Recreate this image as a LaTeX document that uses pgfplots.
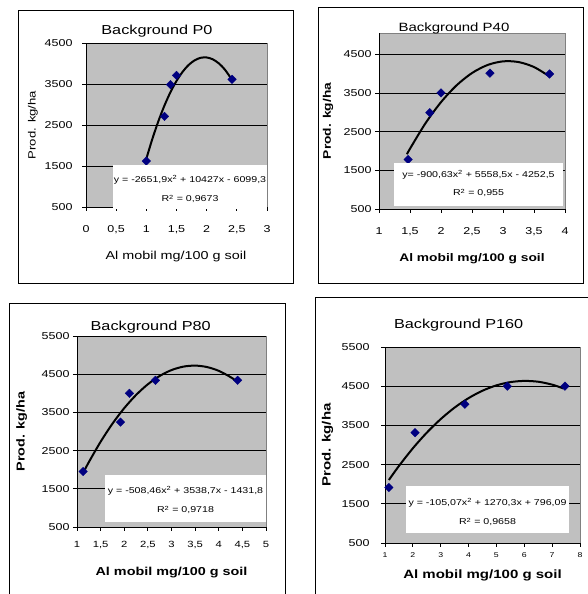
\documentclass[border=0pt]{standalone}
\usepackage{fontspec}
\setmainfont[FakeStretch=1.25]{Liberation Sans}
\usepackage{pgfplots}
\pgfplotsset{compat=1.18}
\definecolor{plotgrey}{HTML}{C0C0C0}
\definecolor{framegrey}{HTML}{808080}
\definecolor{navy}{HTML}{000080}
\newcommand{\fs}[1]{\fontsize{#1}{#1}\selectfont}
\pgfplotsset{
  exc/.style={
    scale only axis, anchor=south west, clip=false,
    axis lines*=left, axis line style={-, black, line width=0.8pt},
    axis background/.style={fill=plotgrey, draw=framegrey, line width=0.8pt},
    ymajorgrids, grid style={black, line width=0.7pt},
    tick align=outside, major tick length=4pt,
    tick style={black, line width=0.8pt},
    scaled ticks=false,
    /pgf/number format/use comma, /pgf/number format/1000 sep={},
    /pgf/number format/assume math mode=true,
    ticklabel style={font=\fs{10}},
    every axis title shift=0pt,
    title style={anchor=base},
    xlabel style={anchor=base},
    ylabel style={anchor=center},
  },
  mk/.style={only marks, mark=square*, mark size=3pt, mark options={rotate=45, fill=navy, draw=navy}},
  tl/.style={black, line width=2pt, smooth, no marks},
}
\begin{document}
\begin{tikzpicture}
\useasboundingbox (0pt,0pt) rectangle (587pt,594pt);
% frames
\draw[black, line width=0.8pt] (18pt,311pt) rectangle (293pt,584pt);
\draw[black, line width=0.8pt] (318pt,311pt) rectangle (583pt,587pt);
\draw[black, line width=0.8pt] (9pt,-3pt) -- (9pt,291pt) -- (285pt,291pt) -- (285pt,-3pt);
\draw[black, line width=0.8pt] (315pt,-3pt) -- (315pt,297pt) -- (592pt,297pt);

% ---------- P0
\begin{axis}[exc, at={(86pt,387pt)}, width=181pt, height=164pt,
  xmin=0, xmax=3, ymin=500, ymax=4500,
  xtick={0,0.5,1,1.5,2,2.5,3}, ytick={500,1500,2500,3500,4500},
  title={Background P0}, title style={at={(axis description cs:0.392,1.053)}, anchor=base, font=\fs{13}},
  xlabel={Al mobil mg/100 g soil}, xlabel style={at={(axis description cs:0.497,-0.319)}, font=\fs{11.5}},
  ylabel={Prod. kg/ha}, ylabel style={at={(axis description cs:-0.293,0.5)}, font=\fs{10.5}},
  xticklabel style={yshift=-11pt}, yticklabel style={xshift=-6pt}]
\addplot[mk] coordinates {(1.0,1620) (1.3,2710) (1.4,3485) (1.5,3710) (2.42,3615)};
\addplot[tl] coordinates {(1.0,1676) (1.1,2162) (1.2,2594) (1.3,2974) (1.4,3301) (1.5,3574) (1.6,3795) (1.7,3963) (1.8,4077) (1.9,4139) (2.0,4147) (2.1,4103) (2.2,4005) (2.3,3854) (2.42,3603)};
\end{axis}
\fill[white] (113pt,385pt) rectangle (267pt,429pt);
\node[font=\fs{8.5}] at (190pt,414pt) {y = -2651,9x\textsuperscript{2} + 10427x - 6099,3};
\node[font=\fs{8.5}] at (190pt,395pt) {R\textsuperscript{2} = 0,9673};

% ---------- P40
\begin{axis}[exc, at={(379pt,385pt)}, width=186pt, height=176pt,
  xmin=1, xmax=4, ymin=500, ymax=5050,
  xtick={1,1.5,2,2.5,3,3.5,4}, ytick={500,1500,2500,3500,4500},
  title={Background P40}, title style={at={(axis description cs:0.403,1.007)}, anchor=base, font=\fs{12}},
  xlabel={\bfseries Al mobil mg/100 g soil}, xlabel style={at={(axis description cs:0.5,-0.299)}, font=\fs{11}},
  ylabel={\bfseries Prod. kg/ha}, ylabel style={at={(axis description cs:-0.274,0.5)}, font=\fs{11}},
  xticklabel style={yshift=-11pt}]
\addplot[mk] coordinates {(1.47,1780) (1.82,2990) (2.0,3500) (2.79,4010) (3.75,3990)};
\addplot[tl] coordinates {(1.45,1914) (1.5,2059) (1.75,2717) (2.0,3262) (2.25,3695) (2.5,4015) (2.75,4222) (3.0,4317) (3.25,4299) (3.5,4170) (3.75,3927)};
\end{axis}
\fill[white] (394pt,388pt) rectangle (563pt,431pt);
\node[font=\fs{8.5}] at (478.5pt,419pt) {y= -900,63x\textsuperscript{2} + 5558,5x - 4252,5};
\node[font=\fs{8.5}] at (478.5pt,401pt) {R\textsuperscript{2} = 0,955};

% ---------- P80
\begin{axis}[exc, at={(77pt,67pt)}, width=189pt, height=191pt,
  xmin=1, xmax=5, ymin=500, ymax=5500,
  xtick={1,1.5,2,2.5,3,3.5,4,4.5,5}, ytick={500,1500,2500,3500,4500,5500},
  title={Background P80}, title style={at={(axis description cs:0.39,1.028)}, anchor=base, font=\fs{13}},
  xlabel={\bfseries Al mobil mg/100 g soil}, xlabel style={at={(axis description cs:0.5,-0.254)}, font=\fs{11.5}},
  ylabel={\bfseries Prod. kg/ha}, ylabel style={at={(axis description cs:-0.293,0.5)}, font=\fs{11.5}},
  xticklabel style={yshift=-7pt, font=\fs{9}}]
\addplot[mk] coordinates {(1.13,1955) (1.92,3245) (2.11,4000) (2.66,4340) (4.40,4340)};
\addplot[tl] coordinates {(1.12,1894) (1.25,2197) (1.5,2732) (1.75,3204) (2.0,3612) (2.25,3956) (2.5,4237) (2.75,4454) (3.0,4608) (3.25,4698) (3.5,4725) (3.75,4688) (4.0,4588) (4.25,4424) (4.4,4295)};
\end{axis}
\fill[white] (105pt,72pt) rectangle (266pt,119pt);
\node[font=\fs{8.5}] at (185.5pt,103pt) {y = -508,46x\textsuperscript{2} + 3538,7x - 1431,8};
\node[font=\fs{8.5}] at (185.5pt,84pt) {R\textsuperscript{2} = 0,9718};

% ---------- P160
\begin{axis}[exc, at={(385pt,51pt)}, width=195pt, height=196pt,
  xmin=1, xmax=8, ymin=500, ymax=5500,
  xtick={1,2,3,4,5,6,7,8}, ytick={500,1500,2500,3500,4500,5500},
  title={Background P160}, title style={at={(axis description cs:0.378,1.095)}, anchor=base, font=\fs{13}},
  xlabel={\bfseries Al mobil mg/100 g soil}, xlabel style={at={(axis description cs:0.5,-0.179)}, font=\fs{12}},
  ylabel={\bfseries Prod. kg/ha}, ylabel style={at={(axis description cs:-0.295,0.5)}, font=\fs{12}},
  xticklabel style={yshift=-2pt, font=\fs{7}}, yticklabel style={xshift=-8pt}]
\addplot[mk] coordinates {(1.14,1915) (2.08,3315) (3.87,4040) (5.39,4500) (7.46,4500)};
\addplot[tl] coordinates {(1.14,2108) (1.5,2465) (2,2916) (2.5,3315) (3,3661) (3.5,3955) (4,4196) (4.5,4385) (5,4521) (5.5,4604) (6,4635) (6.5,4614) (7,4540) (7.4,4443)};
\end{axis}
\fill[white] (406pt,61pt) rectangle (569pt,108pt);
\node[font=\fs{8.5}] at (487.5pt,91pt) {y = -105,07x\textsuperscript{2} + 1270,3x + 796,09};
\node[font=\fs{8.5}] at (487.5pt,72pt) {R\textsuperscript{2} = 0,9658};
\end{tikzpicture}
\end{document}
